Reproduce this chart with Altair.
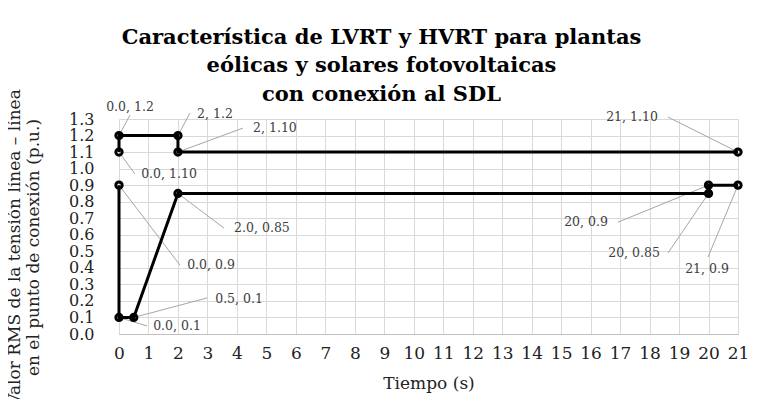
import altair as alt
import pandas as pd

# ---- data ----
hvrt_x = [0, 0, 2, 2, 21]
hvrt_y = [1.10, 1.2, 1.2, 1.10, 1.10]
hvrt_labels = ["0.0, 1.10", "0.0, 1.2", "2, 1.2", "2, 1.10", "21, 1.10"]

lvrt_x = [0, 0, 0.5, 2, 20, 20, 21]
lvrt_y = [0.9, 0.1, 0.1, 0.85, 0.85, 0.9, 0.9]
lvrt_labels = ["0.0, 0.9", "0.0, 0.1", "0.5, 0.1", "2.0, 0.85", "20, 0.85", "20, 0.9", "21, 0.9"]

x_ticks = list(range(0, 22))
y_ticks = [round(i * 0.1, 1) for i in range(0, 14)]

title_lines = ["Característica de LVRT y HVRT para plantas",
               "eólicas y solares fotovoltaicas",
               "con conexión al SDL"]
x_title = "Tiempo (s)"
y_title = ["Valor RMS de la tensión línea – línea", "en el punto de conexión (p.u.)"]

# ---- layout (pixel offsets of label text centre and leader end, relative to point) ----
W, H = 619, 215
hvrt_layout = [(50, 22, 16, 22), (11, -28.5, 11, -20.5), (37, -21.5, 12, -22.5),
               (97, -24, 65, -24), (-106, -35, -70, -35)]
lvrt_layout = [(92, 80, 61, 80), (58, 8.5, 28, 8.5), (105.3, -18.5, 73.3, -19.5),
               (84, 34.6, 46, 34.6), (-74.5, 59.6, -40.5, 59.6), (-122.5, 37, -90.5, 37),
               (-31, 84, -30, 72)]

px_x = W / 21.0
px_y = H / 1.3

rows = []
for series, xs_, ys_, labs, lay in [("HVRT", hvrt_x, hvrt_y, hvrt_labels, hvrt_layout),
                                     ("LVRT", lvrt_x, lvrt_y, lvrt_labels, lvrt_layout)]:
    for i, (x, y, lab, (tdx, tdy, ldx, ldy)) in enumerate(zip(xs_, ys_, labs, lay)):
        rows.append(dict(series=series, idx=i, x=x, y=y, label=lab,
                         tx=x + tdx / px_x, ty=y - tdy / px_y,
                         lx=x + ldx / px_x, ly=y - ldy / px_y))
df = pd.DataFrame(rows)

FONT = "DejaVu Serif"

xs = alt.Scale(domain=[0, 21], nice=False, zero=False)
ys = alt.Scale(domain=[0, 1.3], nice=False, zero=False)

# tickCount above the number of values, so that Vega does not thin the explicit values
x_axis = alt.Axis(values=x_ticks, tickCount=50, format="d", titlePadding=14, labelPadding=11,
                  labelFontSize=17, domainColor="#bfbfbf")
y_axis = alt.Axis(values=y_ticks, tickCount=50, format=".1f", domain=False, labelPadding=25,
                  labelFontSize=16, titleX=-105, titleY=128, titleAlign="center",
                  titleBaseline="middle", titleLineHeight=19)

base = alt.Chart(df)

leaders = base.mark_rule(color="#a6a6a6", strokeWidth=1).encode(
    x=alt.X("x:Q", scale=xs, title=x_title, axis=x_axis),
    y=alt.Y("y:Q", scale=ys, title=y_title, axis=y_axis),
    x2="lx:Q", y2="ly:Q")

lines = base.mark_line(color="black", strokeWidth=3).encode(
    x="x:Q", y="y:Q", detail="series:N", order="idx:Q")

points = base.mark_point(filled=False, color="black", size=40, strokeWidth=3, opacity=1).encode(
    x="x:Q", y="y:Q")

texts = base.mark_text(font=FONT, fontSize=12.5, color="#404040", align="center",
                       baseline="middle").encode(
    x="tx:Q", y="ty:Q", text="label:N")

chart = alt.layer(leaders, lines, points, texts).properties(
    width=W, height=H,
    title=alt.TitleParams(text=title_lines, font=FONT, fontSize=21, fontWeight="bold",
                          color="black", lineHeight=28.5, anchor="middle", dx=-47, offset=-16),
    autosize=alt.AutoSizeParams(type="none"),
    padding={"left": 111, "top": 111, "right": 10, "bottom": 65},
).configure_axis(
    grid=True, gridColor="#d9d9d9", ticks=False, labelFont=FONT,
    labelColor="#222222", labelOverlap=False, labelFlush=False, labelSeparation=0,
    labelBound=False, titleFont=FONT, titleFontSize=17, titleFontWeight="normal",
    titleColor="#222222"
).configure_view(stroke=None)

chart.save("out.html", embed_options={"renderer": "svg", "actions": False})
